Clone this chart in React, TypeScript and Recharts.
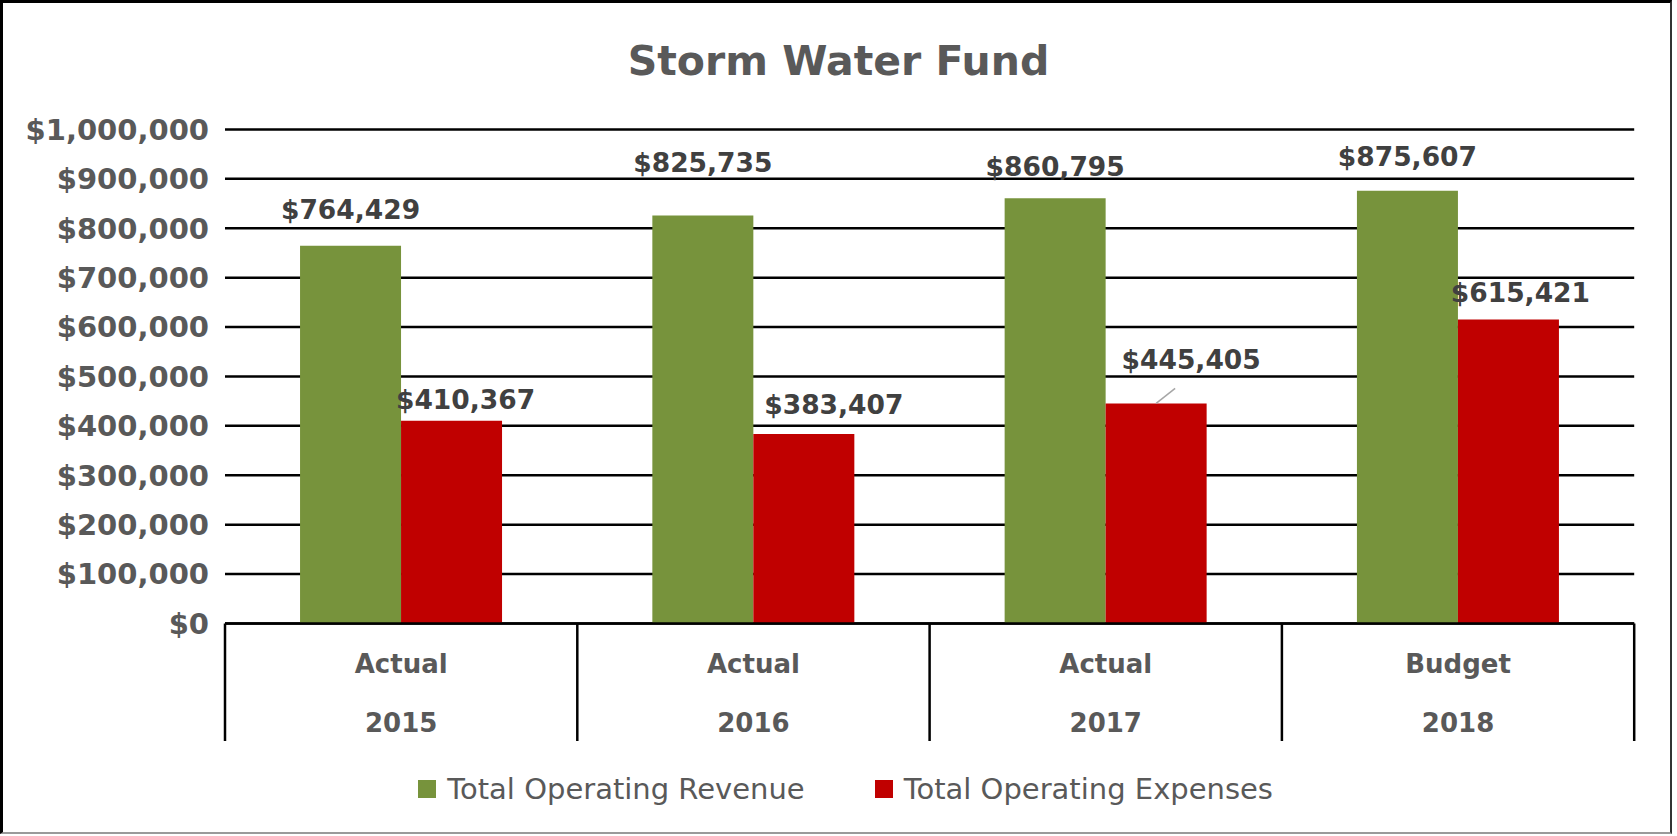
import React from 'react';
import { BarChart, Bar, XAxis, YAxis, CartesianGrid, LabelList, Legend } from 'recharts';

const periodTypes = ['Actual', 'Actual', 'Actual', 'Budget'];
const years = ['2015', '2016', '2017', '2018'];
const seriesNames = ['Total Operating Revenue', 'Total Operating Expenses'];
const revenue = [764429, 825735, 860795, 875607];
const expenses = [410367, 383407, 445405, 615421];
const yTicks = [0, 100000, 200000, 300000, 400000, 500000, 600000, 700000, 800000, 900000, 1000000];

// manual label nudges (px) relative to the default "above bar" spot
const revenueLabelRise = [36, 53, 32, 34];
const revenueLabelShift = [0, 0, 0, 0];
const expenseLabelRise = [21, 30, 44, 27];
const expenseLabelShift = [14, 30, 35, 12];
const expenseLeader = [false, false, true, false];

const GREEN = '#77933C';
const RED = '#C00000';
const AXIS_TEXT = '#595959';
const LABEL_TEXT = '#404040';
const FONT = '"DejaVu Sans", sans-serif';

const data = years.map((y, i) => ({
  key: `${periodTypes[i]} ${y}`,
  revenue: revenue[i],
  expenses: expenses[i],
}));

const fmt = (v: number) => '$' + Number(v).toLocaleString('en-US');

const CategoryTick = (props: any) => {
  const { x, y, payload, index, visibleTicksCount } = props;
  const half = payload?.offset ?? 0;
  const last = (visibleTicksCount ?? years.length) - 1;
  const lineLen = 117.5;
  return (
    <g>
      <line x1={x - half} x2={x - half} y1={y} y2={y + lineLen} stroke="#000" strokeWidth={2.5} />
      {index === last && (
        <line x1={x + half} x2={x + half} y1={y} y2={y + lineLen} stroke="#000" strokeWidth={2.5} />
      )}
      <text x={x} y={y + 40} textAnchor="middle" dominantBaseline="central" fontFamily={FONT} fontWeight="bold" fontSize={26} fill={AXIS_TEXT}>
        {periodTypes[index]}
      </text>
      <text x={x} y={y + 99} textAnchor="middle" dominantBaseline="central" fontFamily={FONT} fontWeight="bold" fontSize={26} fill={AXIS_TEXT}>
        {years[index]}
      </text>
    </g>
  );
};

const makeLabel = (rise: number[], shift: number[], leader?: boolean[]) => (props: any) => {
  const { x, y, width, value, index } = props;
  const cx = Number(x) + Number(width) / 2;
  const top = Number(y);
  const lx = cx + shift[index];
  const ly = top - rise[index];
  return (
    <g>
      {leader && leader[index] && (
        <line x1={cx} y1={top} x2={cx + 19} y2={top - 15} stroke="#A6A6A6" strokeWidth={1.5} />
      )}
      <text x={lx} y={ly} textAnchor="middle" dominantBaseline="central" fontFamily={FONT} fontWeight="bold" fontSize={26.5} fill={LABEL_TEXT}>
        {fmt(value)}
      </text>
    </g>
  );
};

const LegendContent = (props: any) => {
  const items = [...(props.payload || [])].sort(
    (a: any, b: any) => seriesNames.indexOf(a.value) - seriesNames.indexOf(b.value)
  );
  return (
    <div style={{ height: 40, display: 'flex', alignItems: 'center', justifyContent: 'center', paddingLeft: 57, fontFamily: FONT, fontSize: 29, color: AXIS_TEXT }}>
      {items.map((it: any, i: number) => (
        <div key={i} style={{ display: 'flex', alignItems: 'center', marginLeft: i === 0 ? 0 : 70 }}>
          <span style={{ display: 'inline-block', width: 18, height: 18, background: it.color, marginRight: 11 }} />
          <span>{it.value}</span>
        </div>
      ))}
    </div>
  );
};

export default function App() {
  return (
    <div style={{ position: 'absolute', left: 0, top: 0, width: 1677, height: 836, background: '#fff' }}>
      <div style={{ position: 'absolute', left: 0, top: 0, width: 1672, height: 834, boxSizing: 'border-box', borderTop: '3px solid #000', borderLeft: '3px solid #000', borderRight: '2px solid #333', borderBottom: '2px solid #9a9a9a' }} />
      <div style={{ position: 'absolute', left: 0, top: 61, width: 1677, textAlign: 'center', transform: 'translateY(-50%)', fontFamily: FONT, fontWeight: 'bold', fontSize: 41, color: AXIS_TEXT, lineHeight: 1 }}>
        Storm Water Fund
      </div>
      <div style={{ position: 'absolute', left: 0, top: 0 }}>
        <BarChart
          width={1677}
          height={836}
          data={data}
          margin={{ top: 129.4, right: 42.8, left: 0, bottom: 27 }}
          barCategoryGap="21.3%"
          barGap={0}
        >
          <CartesianGrid horizontal vertical={false} stroke="#000" strokeWidth={2.5} />
          <XAxis
            dataKey="key"
            height={145.5}
            axisLine={{ stroke: '#000', strokeWidth: 2.5 }}
            tickLine={false}
            tickSize={0}
            tickMargin={0}
            interval={0}
            tick={<CategoryTick />}
          />
          <YAxis
            width={225}
            domain={[0, 1000000]}
            ticks={yTicks}
            interval={0}
            axisLine={false}
            tickLine={false}
            tickSize={0}
            tickMargin={16}
            tickFormatter={fmt}
            tick={{ fontFamily: FONT, fontWeight: 'bold', fontSize: 29, fill: AXIS_TEXT }}
          />
          <Legend verticalAlign="bottom" content={<LegendContent />} />
          <Bar dataKey="revenue" name={seriesNames[0]} fill={GREEN} isAnimationActive={false}>
            <LabelList dataKey="revenue" content={makeLabel(revenueLabelRise, revenueLabelShift)} />
          </Bar>
          <Bar dataKey="expenses" name={seriesNames[1]} fill={RED} isAnimationActive={false}>
            <LabelList dataKey="expenses" content={makeLabel(expenseLabelRise, expenseLabelShift, expenseLeader)} />
          </Bar>
        </BarChart>
      </div>
    </div>
  );
}
